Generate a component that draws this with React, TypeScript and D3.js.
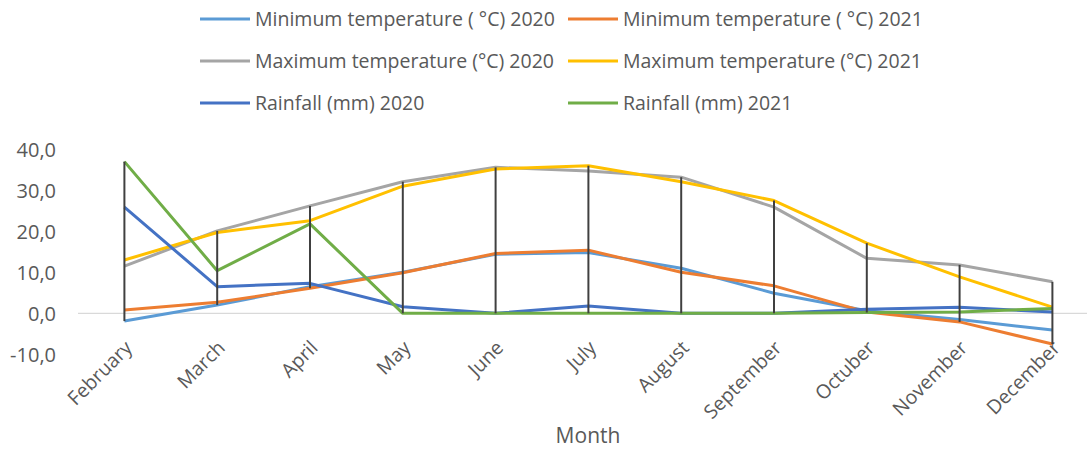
import React from "react";
import * as d3 from "d3";

const months = ["February", "March", "April", "May", "June", "July", "August", "September", "Octuber", "November", "December"];
const min2020 = [-1.9, 2.0, 6.5, 10.0, 14.4, 14.8, 11.0, 4.9, 0.6, -1.5, -4.1];
const min2021 = [0.8, 2.7, 6.1, 9.9, 14.6, 15.4, 10.0, 6.7, 0.3, -2.1, -7.5];
const max2020 = [11.5, 20.1, 26.2, 32.1, 35.6, 34.7, 33.2, 25.9, 13.4, 11.8, 7.7];
const max2021 = [13.0, 19.7, 22.6, 31.0, 35.2, 36.0, 32.1, 27.5, 17.1, 8.9, 1.5];
const rain2020 = [25.9, 6.5, 7.3, 1.6, 0.0, 1.8, 0.0, 0.0, 1.0, 1.5, 0.3];
const rain2021 = [37.0, 10.4, 21.8, 0.0, 0.0, 0.0, 0.0, 0.0, 0.2, 0.3, 1.2];
const yTicks = [-10, 0, 10, 20, 30, 40];

const series = [
  { name: "Minimum temperature ( °C) 2020", values: min2020, color: "#5B9BD5" },
  { name: "Minimum temperature ( °C) 2021", values: min2021, color: "#ED7D31" },
  { name: "Maximum temperature (°C) 2020", values: max2020, color: "#A5A5A5" },
  { name: "Maximum temperature (°C) 2021", values: max2021, color: "#FFC000" },
  { name: "Rainfall (mm) 2020", values: rain2020, color: "#4472C4" },
  { name: "Rainfall (mm) 2021", values: rain2021, color: "#70AD47" },
];

const W = 1087;
const H = 450;
const FONT = "'Open Sans', sans-serif";
const TXT = "#595959";

export default function App() {
  const x = d3.scaleBand<string>().domain(months).range([78, 78 + 11 * 92.8]);
  const cx = (m: string) => (x(m) as number) + x.bandwidth() / 2;
  const y = d3.scaleLinear().domain([-10, 40]).range([354.3, 149.3]);
  const line = d3
    .line<number>()
    .x((_, i) => cx(months[i]))
    .y((v) => y(v));

  const hiLo = months.map((m, i) => {
    const vals = series.map((s) => s.values[i]);
    return { m, lo: d3.min(vals) as number, hi: d3.max(vals) as number };
  });

  const legendPos = [
    [200, 19],
    [568, 19],
    [200, 61],
    [568, 61],
    [200, 103],
    [568, 103],
  ];

  return (
    <div style={{ position: "absolute", left: 0, top: 0 }}>
      <svg width={W} height={H} style={{ display: "block", background: "#fff" }} fontFamily={FONT}>
        {/* legend */}
        {series.map((s, i) => (
          <g key={s.name} transform={`translate(${legendPos[i][0]},${legendPos[i][1]})`}>
            <line x1={0} x2={50} y1={0} y2={0} stroke={s.color} strokeWidth={3} />
            <text x={55} y={0} dy="0.35em" fontSize={19.5} fill={TXT}>
              {s.name}
            </text>
          </g>
        ))}
        {/* y ticks */}
        {yTicks.map((t) => (
          <text key={t} x={56} y={y(t)} dy="0.36em" textAnchor="end" fontSize={20} fill={TXT}>
            {d3.format(".1f")(t).replace(".", ",").replace("−", "-")}
          </text>
        ))}
        {/* zero axis */}
        <line x1={78} x2={W} y1={y(0)} y2={y(0)} stroke="#D9D9D9" strokeWidth={1.3} />
        {/* x labels */}
        {months.map((m) => (
          <text
            key={m}
            transform={`translate(${cx(m) + 9},${349}) rotate(-45)`}
            textAnchor="end"
            fontSize={19.5}
            fill={TXT}
          >
            {m}
          </text>
        ))}
        <text x={588} y={436} dy="0.35em" textAnchor="middle" fontSize={21} fill={TXT}>
          Month
        </text>
        {/* series */}
        {series.map((s) => (
          <path
            key={s.name}
            d={line(s.values) as string}
            fill="none"
            stroke={s.color}
            strokeWidth={3}
            strokeLinejoin="round"
          />
        ))}
        {/* high-low lines */}
        {hiLo.map((h) => (
          <line
            key={h.m}
            x1={cx(h.m)}
            x2={cx(h.m)}
            y1={y(h.hi)}
            y2={y(h.lo)}
            stroke="#404040"
            strokeWidth={2}
          />
        ))}
      </svg>
    </div>
  );
}
